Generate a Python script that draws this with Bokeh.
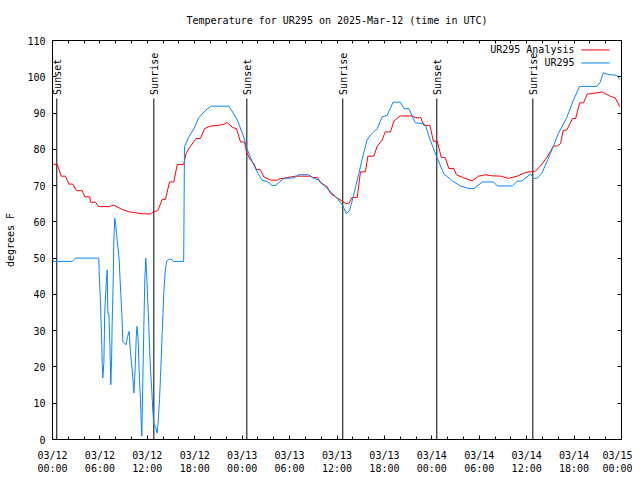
import math
from bokeh.plotting import figure
from bokeh.models import FixedTicker, LinearAxis, Range1d
from bokeh.core.properties import value
from bokeh.embed import file_html
from bokeh.resources import INLINE

FONT = "DejaVu Sans Mono"

# ---- data (hours since 2025-03-12 00:00 UTC) ----
analysis_hours = [0.0, 0.59, 1.1, 1.65, 2.07, 2.57, 3.04, 3.75, 4.09, 4.72, 4.81, 5.44, 5.86, 7.13, 7.76,
                  8.82, 9.66, 10.5, 11.56, 12.4, 12.82, 13.33, 13.88, 14.3, 14.8, 15.35, 15.78, 16.6, 16.9,
                  17.25, 18.18, 18.73, 19.23, 19.99, 21.6, 22.1, 22.8, 23.28, 23.8, 24.3, 24.55, 24.97,
                  25.47, 25.8, 26.3, 26.74, 27.6, 28.43, 28.64, 29.7, 30.75, 32.65, 32.99, 33.57, 33.9,
                  34.76, 35.18, 35.81, 36.66, 37.08, 37.5, 37.9, 38.56, 38.97, 39.6, 39.9, 40.66, 41.1,
                  41.7, 42.1, 42.77, 43.2, 44.0, 45.6, 45.9, 46.6, 47.0, 47.75, 48.2, 48.7, 49.2, 49.7,
                  50.15, 50.8, 51.1, 51.97, 53.1, 53.9, 54.8, 55.6, 56.7, 57.7, 58.8, 59.85, 61.1, 61.75,
                  62.6, 63.4, 63.9, 64.3, 64.6, 65.1, 65.8, 66.2, 66.7, 67.2, 67.66, 69.56, 70.6, 71.2, 71.8]
analysis_temp = [75.9, 75.9, 72.6, 72.6, 70.4, 70.4, 68.6, 68.6, 66.9, 66.9, 65.4, 65.4, 64.2, 64.2, 64.6,
                 63.4, 62.8, 62.5, 62.2, 62.2, 62.8, 63.1, 66.2, 66.2, 71.0, 71.0, 75.8, 75.8, 78.8,
                 80.2, 83.0, 83.0, 85.7, 86.4, 86.8, 87.4, 86.0, 85.7, 82.0, 82.0, 79.3, 77.3,
                 76.1, 74.4, 74.4, 72.4, 71.5, 71.5, 71.8, 72.2, 72.6, 72.6, 72.2, 72.2, 70.8,
                 69.7, 67.8, 66.9, 65.7, 65.1, 65.1, 66.7, 66.7, 73.8, 73.8, 78.1, 78.1, 80.9,
                 82.5, 84.8, 84.8, 87.8, 89.2, 89.2, 88.7, 88.7, 86.6, 86.6, 82.2, 82.2, 77.7, 77.7,
                 74.7, 74.7, 73.0, 72.2, 71.3, 72.6, 73.0, 72.7, 72.6, 72.0, 72.6, 73.6, 74.0, 75.4,
                 77.9, 80.9, 80.9, 81.6, 85.1, 85.4, 88.5, 88.5, 92.8, 92.8, 95.2, 95.8, 94.6, 94.2, 91.7]

obs_hours = [0.0, 0.1, 2.5, 2.9, 5.86, 5.9, 6.07, 6.2, 6.29, 6.37, 6.5, 6.62, 6.8, 6.92, 7.0, 7.13, 7.25,
             7.38, 7.47, 7.55, 7.68, 7.76, 7.88, 8.0, 8.1, 8.27, 8.44, 8.52, 8.65, 8.77, 8.9, 9.1, 9.3,
             9.5, 9.7, 9.87, 10.08, 10.3, 10.46, 10.6, 10.7, 10.84, 10.97, 11.13, 11.22, 11.3, 11.43,
             11.56, 11.68, 11.8, 11.9, 12.0, 12.2, 12.4, 12.57, 12.7, 12.82, 13.07, 13.25, 13.37, 13.54,
             13.67, 13.88, 14.08, 14.26, 14.43, 14.7, 15.0, 15.35, 16.6, 16.65, 16.7, 17.25, 17.9, 18.5,
             19.36, 20.08, 22.3, 22.7, 23.4, 24.2, 24.6, 25.3, 25.9, 26.5, 27.2, 27.8, 28.2, 29.3, 30.5,
             31.2, 32.4, 32.9, 33.7, 34.3, 35.2, 36.0, 36.7, 37.2, 37.6, 38.05, 38.76, 39.2, 39.8, 40.2,
             41.1, 41.7, 42.35, 43.1, 44.0, 44.5, 45.1, 45.9, 47.0, 47.2, 47.8, 48.7, 49.5, 50.6, 51.6,
             52.7, 53.3, 54.4, 55.8, 56.3, 58.2, 58.8, 59.4, 60.5, 60.9, 61.3, 61.9, 63.0, 64.0, 65.1,
             65.9, 66.7, 68.9, 69.3, 69.7, 70.4, 71.4, 71.8]
obs_temp = [49.7, 49.1, 49.1, 50.0, 50.0, 46.3, 37.6, 29.3, 21.1, 17.0, 21.1, 35.75, 43.1, 46.75, 34.8, 34.8,
            27.0, 15.1, 21.1, 32.1, 43.5, 55.0, 61.0, 59.1, 56.8, 53.2, 49.5, 45.4, 39.9, 34.8, 27.0, 26.6,
            26.1, 28.4, 29.8, 23.8, 19.25, 12.8, 19.7, 28.4, 31.2, 27.5, 18.3, 11.0, 5.0, 0.9, 16.5,
            31.2, 44.0, 50.0, 46.75, 41.25, 30.25, 19.25, 13.3, 7.8, 4.4, 3.2, 1.8, 5.0, 11.0,
            17.4, 29.3, 40.3, 46.3, 49.0, 49.7, 49.7, 49.1, 49.1, 64.6, 80.7, 83.4, 85.7, 88.7,
            90.75, 91.9, 91.9, 90.6, 88.0, 83.4, 80.2, 76.5, 73.8, 71.5, 71.1, 70.0, 70.0, 72.0, 72.1,
            73.0, 73.0, 72.2, 71.5, 70.1, 68.3, 66.5, 64.6, 62.2, 63.2, 66.9, 73.3, 77.5, 82.5, 83.9,
            85.7, 88.9, 89.4, 93.0, 93.0, 91.2, 91.2, 87.3, 87.1, 86.6, 82.5, 77.5, 73.3, 71.3, 69.9,
            69.2, 69.2, 71.0, 71.0, 69.9, 69.9, 71.2, 71.3, 73.2, 72.0, 72.0, 73.3, 78.8, 84.3, 88.9,
            93.5, 97.35, 97.35, 98.5, 101.1, 100.6, 100.4, 99.2]

sun_hours = [0.54, 12.82, 24.59, 36.73, 48.63, 60.78]
sun_labels = ["Sunset", "Sunrise", "Sunset", "Sunrise", "Sunset", "Sunrise"]

major_tick_hours = [0, 6, 12, 18, 24, 30, 36, 42, 48, 54, 60, 66, 72]
major_tick_labels = ["03/12\n00:00", "03/12\n06:00", "03/12\n12:00", "03/12\n18:00",
                     "03/13\n00:00", "03/13\n06:00", "03/13\n12:00", "03/13\n18:00",
                     "03/14\n00:00", "03/14\n06:00", "03/14\n12:00", "03/14\n18:00",
                     "03/15\n00:00"]
minor_tick_hours = list(range(0, 73, 2))
y_ticks = list(range(0, 111, 10))

title_text = "Temperature for UR295 on 2025-Mar-12 (time in UTC)"
series_names = ["UR295 Analysis", "UR295"]
RED = "#ff0000"
BLUE = "#0a84ff"

p = figure(width=632, height=476, x_range=Range1d(0, 72), y_range=Range1d(0, 110),
           output_backend="svg", toolbar_location=None,
           min_border_left=52, min_border_right=11, min_border_top=40, min_border_bottom=36)
p.background_fill_color = "white"
p.border_fill_color = "white"
p.outline_line_color = "black"
p.outline_line_width = 1
p.grid.visible = False
p.title.visible = False


def style_axis(ax):
    ax.axis_line_color = "black"
    ax.major_tick_in = 4
    ax.major_tick_out = 0
    ax.minor_tick_in = 3
    ax.minor_tick_out = 0
    ax.major_tick_line_color = "black"
    ax.minor_tick_line_color = "black"
    ax.major_label_text_font = FONT
    ax.major_label_text_font_size = "10px"
    ax.major_label_text_color = "black"
    ax.axis_label_text_font = FONT
    ax.axis_label_text_font_size = "10px"
    ax.axis_label_text_font_style = "normal"
    ax.axis_label_text_color = "black"


xa = p.xaxis[0]
style_axis(xa)
xa.ticker = FixedTicker(ticks=major_tick_hours, minor_ticks=minor_tick_hours)
xa.major_label_overrides = {h: lab for h, lab in zip(major_tick_hours, major_tick_labels)}
xa.major_label_standoff = 10

ya = p.yaxis[0]
style_axis(ya)
ya.ticker = FixedTicker(ticks=y_ticks, minor_ticks=[])
ya.major_label_standoff = 7
ya.axis_label = "degrees F"
ya.axis_label_standoff = 8

# mirrored tick marks on the top (carrying the chart title) and on the right
top = LinearAxis(ticker=FixedTicker(ticks=[], minor_ticks=minor_tick_hours))
style_axis(top)
top.axis_label = title_text
top.axis_label_standoff = 15
p.add_layout(top, "above")
right = LinearAxis(ticker=FixedTicker(ticks=[], minor_ticks=y_ticks))
style_axis(right)
right.minor_tick_in = 4
p.add_layout(right, "right")

# sunrise / sunset markers
p.segment(x0=sun_hours, y0=[0] * len(sun_hours), x1=sun_hours, y1=[94] * len(sun_hours),
          line_color="black", line_width=1)
p.text(x=sun_hours, y=[95] * len(sun_hours), text=sun_labels, angle=math.pi / 2,
       text_align="left", text_baseline="middle", text_font=value(FONT),
       text_font_size="10px", text_color="black", x_offset=1)

p.line(analysis_hours, analysis_temp, line_color=RED, line_width=1)
p.line(obs_hours, obs_temp, line_color=BLUE, line_width=1)

# legend (text left of sample line)
p.text(x=[66.05, 66.05], y=[107.4, 103.8], text=series_names, text_align="right",
       text_baseline="middle", text_font=value(FONT), text_font_size="10px", text_color="black")
p.segment(x0=[66.9, 66.9], y0=[107.4, 103.8], x1=[70.5, 70.5], y1=[107.4, 103.8],
          line_color=[RED, BLUE], line_width=1)

open("out.html", "w").write(file_html(p, INLINE))
